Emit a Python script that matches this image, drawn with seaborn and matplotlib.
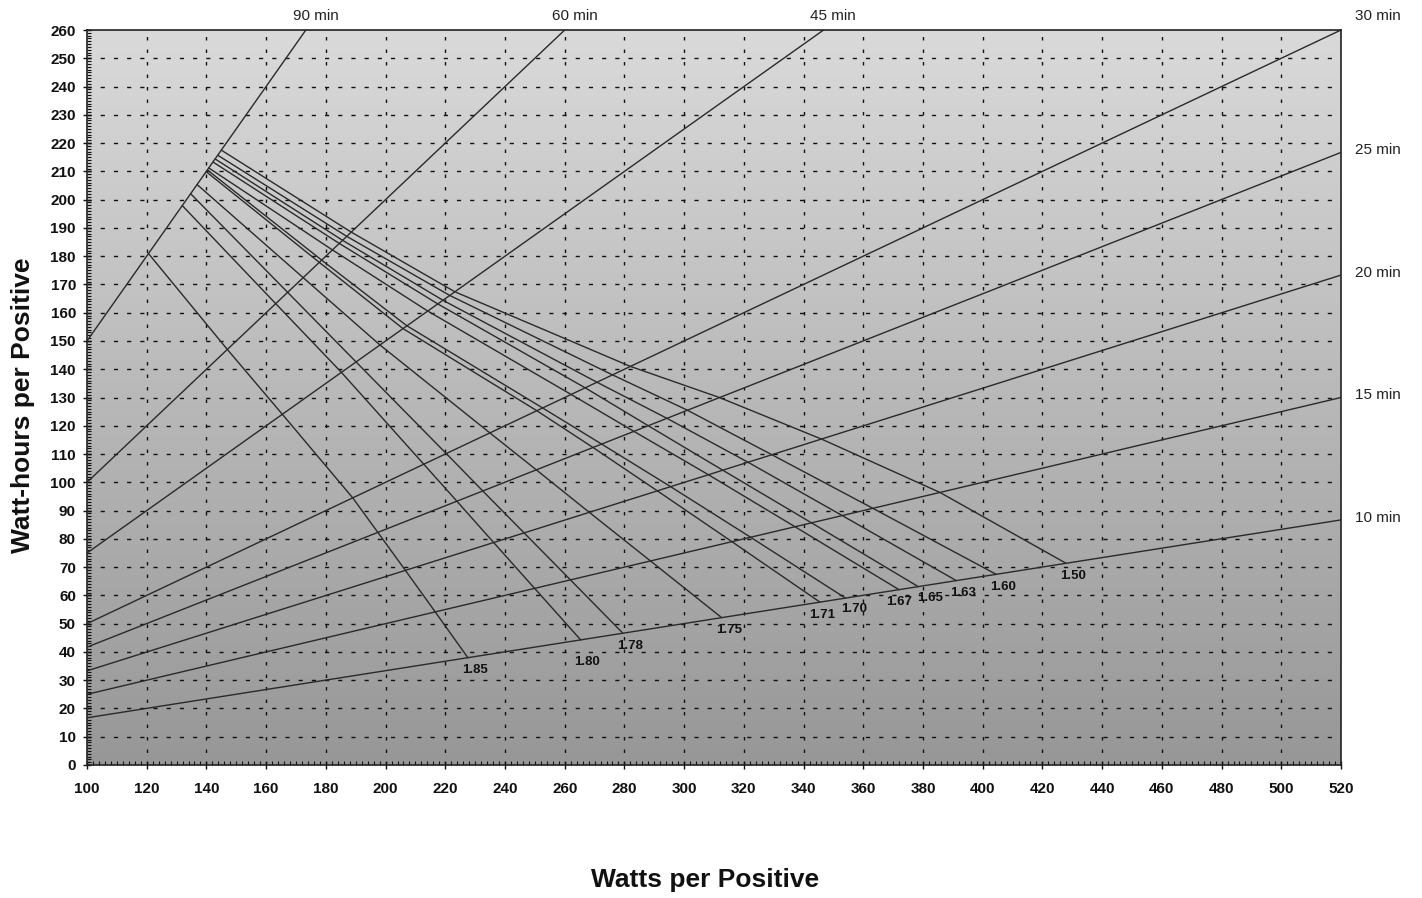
import matplotlib
matplotlib.use('Agg')
import matplotlib.pyplot as plt
import matplotlib.ticker as mticker
import numpy as np
import pandas as pd
import seaborn as sns

# --- end-voltage curves (watts, watt-hours per positive at 90/60/45/30/25/20/15/10 min)
curve_names = ['1.85', '1.80', '1.78', '1.75', '1.71', '1.70',
               '1.67', '1.65', '1.63', '1.60', '1.50']

w_185 = [120.6, 147.0, 165.4, 189.0, 197.4, 206.6, 216.6, 227.6]
wh_185 = [180.9, 147.0, 124.1, 94.5, 82.3, 68.9, 54.2, 37.9]
w_180 = [131.9, 163.2, 185.2, 212.8, 223.9, 236.2, 249.9, 265.4]
wh_180 = [197.9, 163.2, 138.9, 106.4, 93.3, 78.7, 62.5, 44.2]
w_178 = [134.7, 167.2, 190.1, 220.3, 232.6, 246.4, 261.9, 279.5]
wh_178 = [202.1, 167.2, 142.6, 110.2, 96.9, 82.1, 65.5, 46.6]
w_175 = [136.9, 172.4, 198.1, 234.9, 250.5, 268.2, 288.7, 312.6]
wh_175 = [205.3, 172.4, 148.6, 117.5, 104.4, 89.4, 72.2, 52.1]
w_171 = [139.9, 177.8, 205.8, 250.7, 269.5, 291.0, 316.0, 345.5]
wh_171 = [209.9, 177.8, 154.4, 125.3, 112.3, 97.0, 79.0, 57.6]
w_170 = [140.3, 178.6, 207.1, 252.6, 272.4, 295.4, 322.2, 354.1]
wh_170 = [210.5, 178.6, 155.4, 126.3, 113.5, 98.5, 80.6, 59.0]
w_167 = [140.8, 182.2, 214.1, 262.1, 283.2, 308.1, 337.1, 372.0]
wh_167 = [211.2, 182.2, 160.6, 131.1, 118.0, 102.7, 84.3, 62.0]
w_165 = [142.2, 184.5, 217.5, 266.9, 288.0, 312.9, 342.6, 378.4]
wh_165 = [213.3, 184.5, 163.1, 133.4, 120.0, 104.3, 85.7, 63.1]
w_163 = [142.9, 185.6, 219.2, 270.8, 294.3, 321.4, 353.0, 391.2]
wh_163 = [214.4, 185.6, 164.4, 135.4, 122.6, 107.1, 88.2, 65.2]
w_160 = [143.8, 187.0, 221.5, 276.0, 301.1, 329.3, 363.2, 404.6]
wh_160 = [215.7, 187.0, 166.1, 138.0, 125.5, 109.8, 90.8, 67.4]
w_150 = [145.0, 188.5, 223.2, 282.0, 311.8, 346.0, 385.7, 428.0]
wh_150 = [217.5, 188.5, 167.4, 141.0, 130.0, 115.3, 96.4, 71.3]

curve_w = [w_185, w_180, w_178, w_175, w_171, w_170, w_167, w_165, w_163, w_160, w_150]
curve_wh = [wh_185, wh_180, wh_178, wh_175, wh_171, wh_170, wh_167, wh_165, wh_163, wh_160, wh_150]

# --- discharge-time lines (start and end points)
time_names = ['90 min', '60 min', '45 min', '30 min', '25 min', '20 min', '15 min', '10 min']
time_w0 = [100, 100, 100, 100, 100, 100, 100, 100]
time_wh0 = [150, 100, 75, 50, 41.7, 33.3, 25, 16.7]
time_w1 = [173.3, 260, 346.7, 520, 520, 520, 520, 520]
time_wh1 = [260, 260, 260, 260, 216.7, 173.3, 130, 86.7]

rows = []
for name, ws, whs in zip(curve_names, curve_w, curve_wh):
    for w, wh in zip(ws, whs):
        rows.append({'curve': name, 'W': w, 'Wh': wh})
df_curves = pd.DataFrame(rows)

rows = []
for name, a, b, c, d in zip(time_names, time_w0, time_wh0, time_w1, time_wh1):
    rows.append({'time': name, 'W': a, 'Wh': b})
    rows.append({'time': name, 'W': c, 'Wh': d})
df_time = pd.DataFrame(rows)

sns.set_style('ticks')
plt.rcParams['font.family'] = ['Liberation Sans', 'DejaVu Sans']

fig = plt.figure(figsize=(14.22, 8.98), dpi=100)
ax = fig.add_axes([87 / 1422, 1 - 765 / 898, (1341 - 87) / 1422, (765 - 30) / 898])

# grey gradient background
grad = np.linspace(0, 1, 256).reshape(-1, 1)
ax.imshow(grad, extent=[100, 520, 0, 260], aspect='auto', origin='lower',
          cmap=matplotlib.colors.LinearSegmentedColormap.from_list('bg', ['#979797', '#dadada']),
          zorder=0)

ax.set_xlim(100, 520)
ax.set_ylim(0, 260)

# dashed grid
for x in range(120, 520, 20):
    ax.axvline(x, color='#111111', lw=1.0, ls=(0, (2.5, 6.5)), zorder=1)
for y in range(10, 260, 10):
    ax.axhline(y, color='#111111', lw=1.0, ls=(0, (3, 6.5)), zorder=1)

line_col = '#2a2a2a'
sns.lineplot(data=df_time, x='W', y='Wh', units='time', estimator=None, sort=False,
             color=line_col, lw=1.0, ax=ax, zorder=3)
sns.lineplot(data=df_curves, x='W', y='Wh', units='curve', estimator=None, sort=False,
             color=line_col, lw=1.0, ax=ax, zorder=3)

# curve labels at the 10 min end
label_shift = {'1.80': (4.5, -16), '1.71': (1.5, -9), '1.70': (6, -8),
               '1.67': (0, -9), '1.65': (8.5, -8), '1.63': (4.5, -9)}
for name, ws, whs in zip(curve_names, curve_w, curve_wh):
    dx, dy = label_shift.get(name, (5, -9))
    ax.annotate(name, (ws[-1], whs[-1]), xytext=(dx, dy), textcoords='offset points',
                ha='center', va='center', fontsize=9.5, fontweight='bold',
                color='#111111', zorder=5)

# time labels
for name, w1, wh1 in zip(time_names, time_w1, time_wh1):
    if w1 < 520:
        ax.annotate(name, (w1, wh1), xytext=(7, 10), textcoords='offset points',
                    ha='center', va='center', fontsize=11, color='#222222',
                    annotation_clip=False)
    elif wh1 >= 260:
        ax.annotate(name, (w1, wh1), xytext=(10, 10), textcoords='offset points',
                    ha='left', va='center', fontsize=11, color='#222222',
                    annotation_clip=False)
    else:
        ax.annotate(name, (w1, wh1), xytext=(10, 1.5), textcoords='offset points',
                    ha='left', va='center', fontsize=11, color='#222222',
                    annotation_clip=False)

ax.xaxis.set_major_locator(mticker.MultipleLocator(20))
ax.xaxis.set_minor_locator(mticker.MultipleLocator(2))
ax.yaxis.set_major_locator(mticker.MultipleLocator(10))
ax.yaxis.set_minor_locator(mticker.MultipleLocator(1))
ax.tick_params(which='major', direction='inout', length=6, width=1, color='#111111',
               labelsize=11, labelcolor='#111111')
ax.tick_params(axis='x', which='major', pad=9)
ax.tick_params(axis='y', which='major', pad=5)
ax.tick_params(which='minor', direction='in', length=3, width=0.8, color='#111111')
for lab in ax.get_xticklabels() + ax.get_yticklabels():
    lab.set_fontweight('bold')

for side in ['left', 'bottom', 'top', 'right']:
    ax.spines[side].set_visible(True)
    ax.spines[side].set_color('#222222')
    ax.spines[side].set_linewidth(1.2)
    ax.spines[side].set_zorder(6)

ax.set_xlabel('')
ax.set_ylabel('')
fig.text(0.016, 0.549, 'Watt-hours per Positive', rotation=90, ha='center', va='center',
         fontsize=19, fontweight='bold', color='#111111')
fig.text(0.496, 0.020, 'Watts per Positive', ha='center', va='center',
         fontsize=19, fontweight='bold', color='#111111')

fig.savefig('out.png', dpi=100)
